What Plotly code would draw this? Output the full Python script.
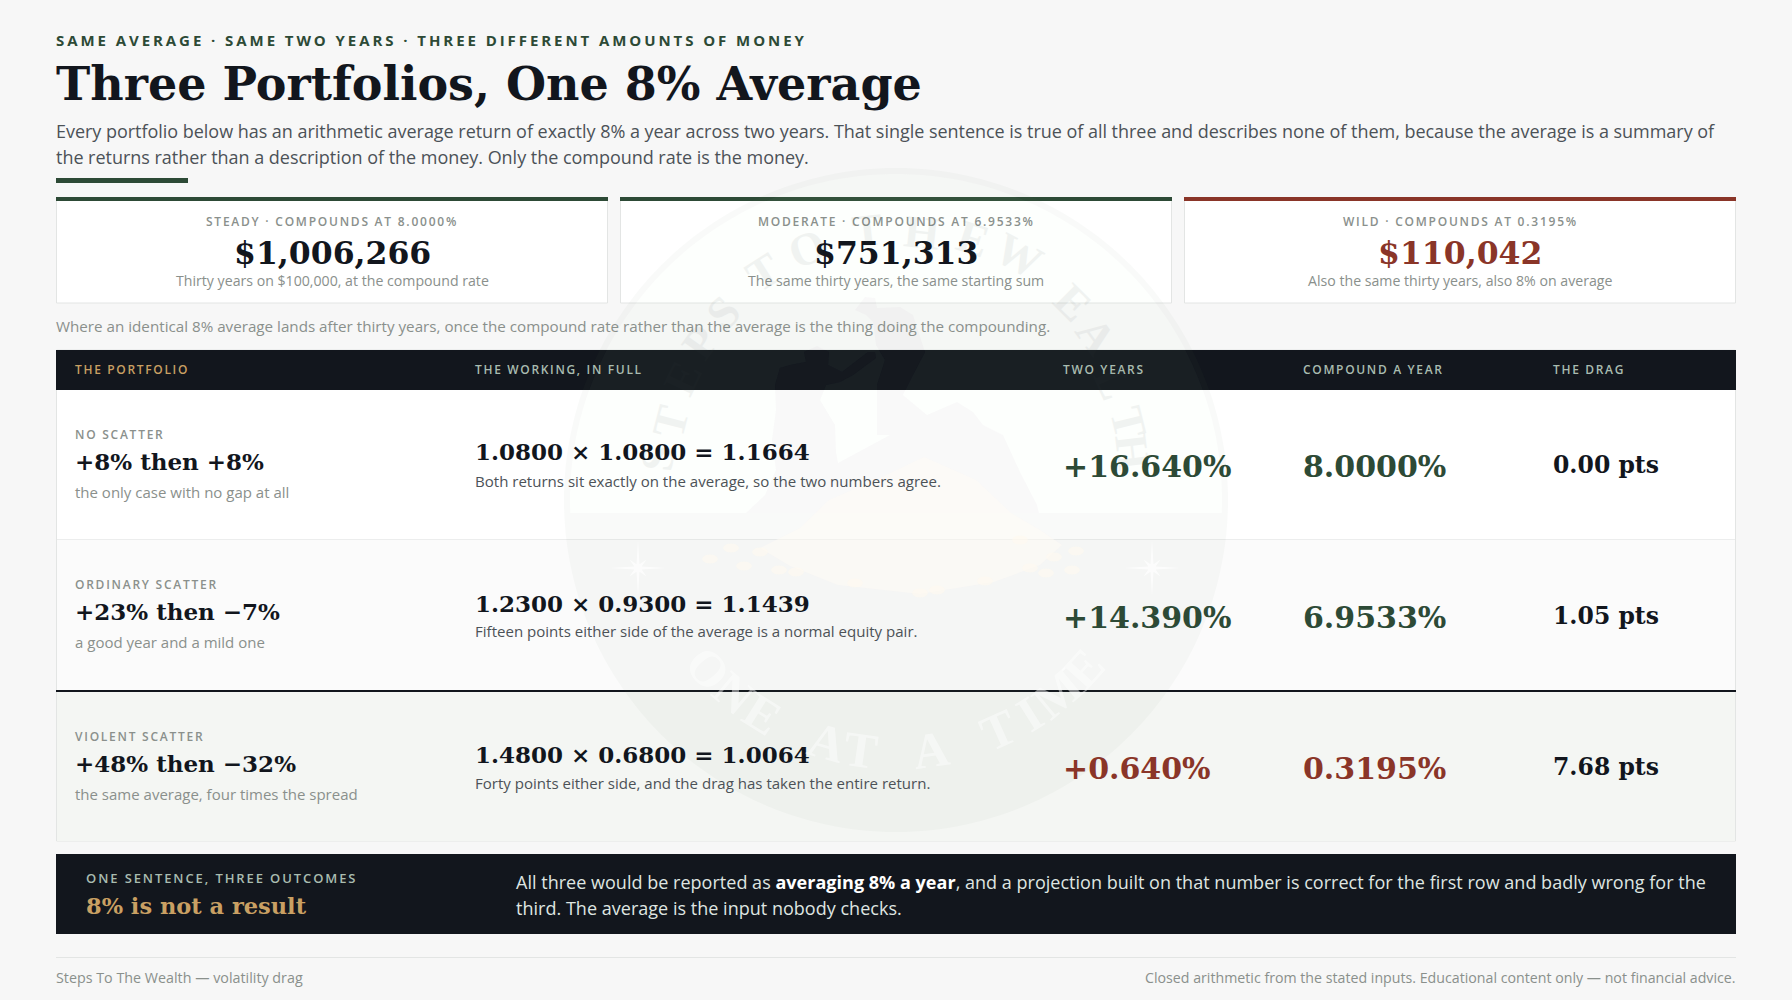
import math
import plotly.graph_objects as go

W, H = 1792, 1000
BG = "#f7f7f7"; INK = "#12161d"; GREEN = "#2d4a36"; RED = "#8a3528"; GOLD = "#c9a063"; SAGE = "#a9bcb0"
MUTED = "#8a908c"; BODY = "#4c5257"; LINE = "#e3e5e4"
SANS = "Open Sans"; SERIF = "DejaVu Serif"

eyebrow = "SAME AVERAGE · SAME TWO YEARS · THREE DIFFERENT AMOUNTS OF MONEY"
title = "Three Portfolios, One 8% Average"
intro = ["Every portfolio below has an arithmetic average return of exactly 8% a year across two years. That single sentence is true of all three and describes none of them, because the average is a summary of",
         "the returns rather than a description of the money. Only the compound rate is the money."]
card_labels = ["STEADY · COMPOUNDS AT 8.0000%", "MODERATE · COMPOUNDS AT 6.9533%", "WILD · COMPOUNDS AT 0.3195%"]
card_values = ["$1,006,266", "$751,313", "$110,042"]
card_notes = ["Thirty years on $100,000, at the compound rate", "The same thirty years, the same starting sum", "Also the same thirty years, also 8% on average"]
card_colors = [INK, INK, RED]
card_accents = [GREEN, GREEN, RED]
caption = "Where an identical 8% average lands after thirty years, once the compound rate rather than the average is the thing doing the compounding."
headers = ["THE PORTFOLIO", "THE WORKING, IN FULL", "TWO YEARS", "COMPOUND A YEAR", "THE DRAG"]
row_tags = ["NO SCATTER", "ORDINARY SCATTER", "VIOLENT SCATTER"]
row_pairs = ["+8% then +8%", "+23% then −7%", "+48% then −32%"]
row_subs = ["the only case with no gap at all", "a good year and a mild one", "the same average, four times the spread"]
row_formulas = ["1.0800 × 1.0800 = 1.1664", "1.2300 × 0.9300 = 1.1439", "1.4800 × 0.6800 = 1.0064"]
row_notes = ["Both returns sit exactly on the average, so the two numbers agree.",
             "Fifteen points either side of the average is a normal equity pair.",
             "Forty points either side, and the drag has taken the entire return."]
two_years = ["+16.640%", "+14.390%", "+0.640%"]
compound = ["8.0000%", "6.9533%", "0.3195%"]
drag = ["0.00 pts", "1.05 pts", "7.68 pts"]
value_colors = [GREEN, GREEN, RED]
banner_tag = "ONE SENTENCE, THREE OUTCOMES"
banner_head = "8% is not a result"
banner_text = ["All three would be reported as <b style=\"color:#ffffff\">averaging 8% a year</b>, and a projection built on that number is correct for the first row and badly wrong for the",
               "third. The average is the input nobody checks."]
foot_left = "Steps To The Wealth — volatility drag"
foot_right = "Closed arithmetic from the stated inputs. Educational content only — not financial advice."

# faint seal behind the table
SEAL_X, SEAL_Y, SEAL_R = 896, 500, 332
SKY_FLOOR = 513
seal_bottom = "ONE AT A TIME"
seal_top_letters = ["S", "T", "E", "P", "S", "T", "O", "T", "H", "E", "W", "E", "A", "L", "T", "H"]
seal_top_x = [657, 670, 682, 700, 723, 763, 807, 867, 922, 973, 1019, 1073, 1096, 1113, 1129, 1133]
seal_top_y = [458, 422, 378, 342, 312, 272, 248, 230, 232, 238, 255, 302, 335, 382, 422, 452]
ridge = [(746,513),(765,495),(776,470),(772,440),(776,410),(775,385),(780,368),(790,365),(806,362),(804,352),(817,346),(829,352),
         (828,365),(842,372),(868,352),(875,352),(876,358),(853,375),(840,382),(826,385),(820,400),(835,425),(836,452),(838,463),
         (890,435),(877,435),(877,385),(885,360),(876,345),(873,322),(866,315),(855,310),(865,297),(875,298),(877,308),(900,307),
         (913,315),(925,352),(913,375),(903,395),(927,415),(957,402),(973,412),(983,425),(1003,435),(1020,472),(1037,505),(1039,513)]
pile = [(924,457),(880,478),(829,500),(800,528),(760,548),(790,566),(838,585),(920,594),(994,582),(1040,565),(1062,545),(1040,530),(1011,513),(976,480)]
coins = [(710,559),(731,548),(744,566),(779,570),(796,572),(1030,568),(1046,573),(1072,570),(1076,551),(920,593),(855,583),(937,590),(985,581),(1054,557),(1020,540),(760,552)]
stars = [(638,568),(1152,568)]

shapes, ann = [], []

def rect(x0, y0, x1, y1, fill, line=None, layer="below", opacity=1):
    shapes.append(dict(type="rect", xref="x", yref="y", x0=x0, y0=y0, x1=x1, y1=y1, fillcolor=fill, opacity=opacity,
                       line=dict(color=line or fill, width=1 if line else 0), layer=layer))

def poly_path(pts):
    return "M" + " L".join(f"{x:.1f},{y:.1f}" for x, y in pts) + " Z"

def overlay(path, fill, opacity):
    shapes.append(dict(type="path", xref="x", yref="y", path=path, fillcolor=fill, opacity=opacity, line=dict(width=0), layer="above", fillrule="evenodd"))

def text(x, y, s, size, color, family=SANS, anchor="left", weight=None, ls=None, angle=0, opacity=1, shift=True):
    t = f'<span style="letter-spacing:{ls}px">{s}</span>' if ls is not None else s
    f = dict(family=family, size=size, color=color)
    if weight:
        f["weight"] = weight
    xs_ = {"left": -2, "right": 2, "center": 0}[anchor] if shift else 0
    ann.append(dict(x=x, y=y, xref="x", yref="y", text=t, showarrow=False, xanchor=anchor, yanchor="middle", xshift=xs_,
                    font=f, align=anchor, textangle=angle, opacity=opacity))

# page furniture
text(56, 40, eyebrow, 15, GREEN, weight=700, ls=2.93)
text(56, 84, title, 46, INK, SERIF, weight=700)
text(56, 131, intro[0], 18, BODY, ls=-0.03)
text(56, 156.5, intro[1], 18, BODY, ls=-0.03)
rect(56, 178, 188, 183, GREEN)

# cards
for i in range(3):
    x0 = 56 + i * 564
    rect(x0 + .5, 197.5, x0 + 551.5, 303, "#ffffff", LINE)
    rect(x0, 197, x0 + 552, 201, card_accents[i])
    cx = x0 + 276
    text(cx, 221, card_labels[i], 12, MUTED, anchor="center", weight=600, ls=1.76)
    text(cx, 252, card_values[i], 31.5, card_colors[i], SERIF, anchor="center", weight=700)
    text(cx, 280, card_notes[i], 14.15, MUTED, anchor="center")
text(56, 326, caption, 15.2, MUTED)

# table
xs = [75, 475, 1063, 1303, 1553]
rect(56.5, 350, 1735.5, 841, "#ffffff", LINE)
rect(57, 539, 1735, 690, "#fbfbfb")
rect(57, 539, 1735, 540, "#eceded")
rect(57, 692, 1735, 841, "#f4f6f3")
rect(56, 690, 1736, 692, INK)
rect(56, 350, 1736, 390, INK)
for i, h in enumerate(headers):
    text(xs[i], 369, h, 12, GOLD if i == 0 else SAGE, weight=600, ls=1.67)

tag_y = [434, 584, 736]; pair_y = [461.5, 611.5, 763.5]; sub_y = [492, 642, 794]
form_y = [451, 603, 754]; note_y = [481, 631, 783]; val_y = [466, 617, 768]; drag_y = [465, 616, 767]
for i in range(3):
    text(xs[0], tag_y[i], row_tags[i], 12, MUTED, weight=600, ls=1.75)
    text(xs[0], pair_y[i], row_pairs[i], 23, INK, SERIF, weight=700)
    text(xs[0], sub_y[i], row_subs[i], 15, MUTED)
    text(xs[1], form_y[i], row_formulas[i], 23, INK, SERIF, weight=700)
    text(xs[1], note_y[i], row_notes[i], 15.05, BODY)
    text(xs[2], val_y[i], two_years[i], 30, value_colors[i], SERIF, weight=700)
    text(xs[3], val_y[i], compound[i], 30, value_colors[i], SERIF, weight=700)
    text(xs[4], drag_y[i], drag[i], 23.5, INK, SERIF, weight=700)

# banner
rect(56, 854, 1736, 934, INK)
text(86, 878, banner_tag, 13, SAGE, weight=600, ls=1.9)
text(86, 906, banner_head, 22.5, GOLD, SERIF, weight=700)
text(516, 882, banner_text[0], 18, "#dfe5e1", ls=0.02)
text(516, 908, banner_text[1], 18, "#dfe5e1", ls=0.02)

# footer
rect(56, 957, 1736, 958, LINE)
text(56, 977, foot_left, 14.3, MUTED)
text(1736, 977, foot_right, 14.2, MUTED, anchor="right")

# seal
def arc(r, a0, a1, n=180):
    return [(SEAL_X + r * math.cos(math.radians(a0 + (a1 - a0) * k / n)), SEAL_Y + r * math.sin(math.radians(a0 + (a1 - a0) * k / n))) for k in range(n + 1)]

outer = arc(SEAL_R, 0, 360, 240)[:-1]
d = math.degrees(math.asin((SKY_FLOOR - SEAL_Y) / (SEAL_R - 6)))
sky = arc(SEAL_R - 6, 180 - d, 360 + d, 200)
overlay(poly_path(outer) + " " + poly_path(sky), "rgb(100,125,110)", 0.04)
overlay(poly_path(sky) + " " + poly_path(ridge), "rgb(205,255,205)", 0.04)
overlay(poly_path(ridge), "rgb(90,100,100)", 0.04)
overlay(poly_path(pile), "rgb(255,252,245)", 0.5)
for cx, cy in coins:
    overlay(poly_path([(cx + 8 * math.cos(math.radians(a)), cy + 4.5 * math.sin(math.radians(a))) for a in range(0, 360, 30)]), "rgb(255,250,238)", 0.55)
for cx, cy in stars:
    pts = []
    for k in range(16):
        a = math.radians(k * 22.5 - 90)
        r = [28, 4, 12, 4][k % 4]
        pts.append((cx + r * math.cos(a), cy + r * math.sin(a)))
    overlay(poly_path(pts), "rgb(255,255,255)", 0.7)

for ch, lx, ly in zip(seal_top_letters, seal_top_x, seal_top_y):
    th = math.degrees(math.atan2(lx - SEAL_X, 480 - ly))
    text(lx, ly, ch, 46, "rgb(60,70,70)", "Liberation Serif", anchor="center", weight=700, angle=th, opacity=0.06, shift=False)
BOT_STEP, BOT_MID, BOT_R = 8, 6, 252
for k, ch in enumerate(seal_bottom):
    if ch == " ":
        continue
    ph = (BOT_MID - k) * BOT_STEP
    text(SEAL_X - BOT_R * math.sin(math.radians(ph)), SEAL_Y + BOT_R * math.cos(math.radians(ph)), ch, 50, "#ffffff", "Liberation Serif",
         anchor="center", weight=700, angle=ph, opacity=0.45, shift=False)

fig = go.Figure()
fig.update_layout(width=W, height=H, margin=dict(l=0, r=0, t=0, b=0), paper_bgcolor=BG, plot_bgcolor="rgba(0,0,0,0)",
                  xaxis=dict(range=[0, W], visible=False, fixedrange=True), yaxis=dict(range=[H, 0], visible=False, fixedrange=True),
                  shapes=shapes, annotations=ann, showlegend=False)
fig.write_html("out.html", config={"displayModeBar": False},
               post_script="document.body.style.margin='0';document.body.style.background='#f7f7f7';document.body.style.overflow='hidden';")
